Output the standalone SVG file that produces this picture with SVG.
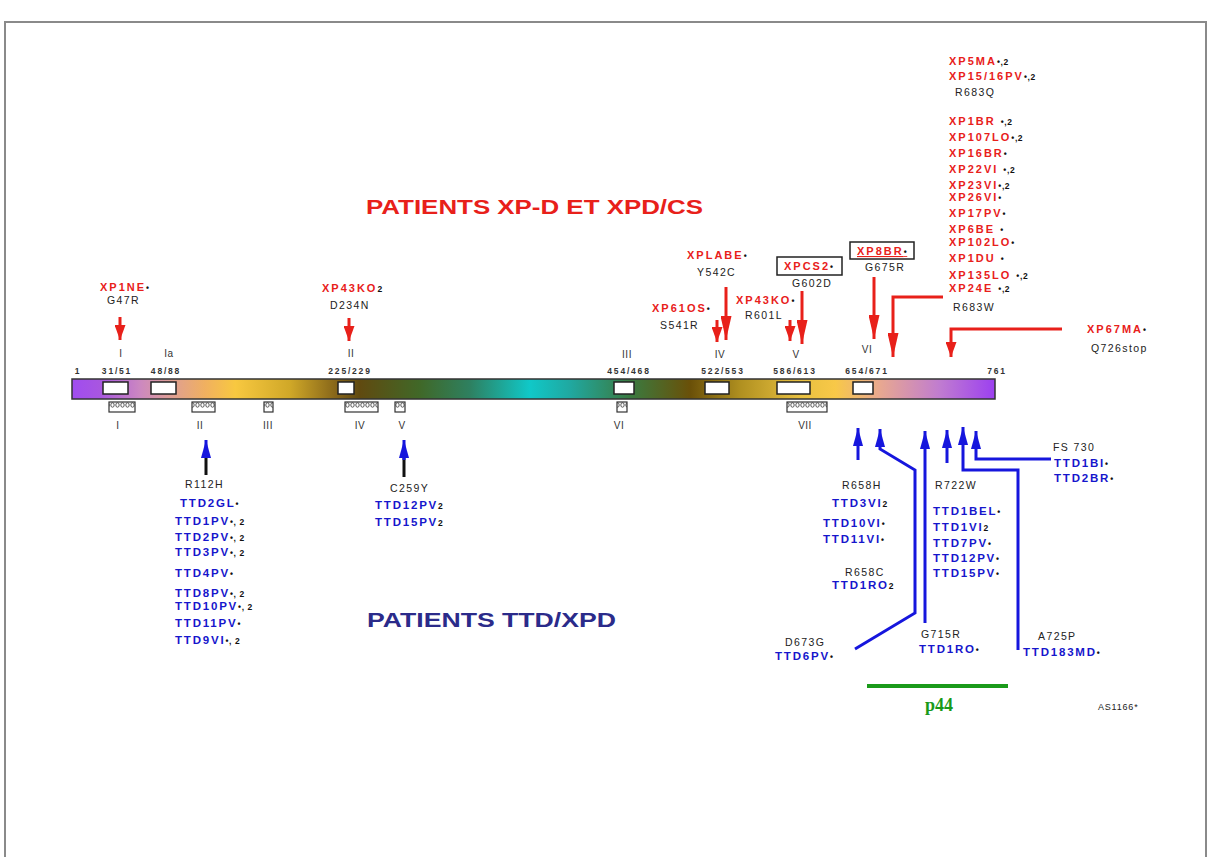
<svg xmlns="http://www.w3.org/2000/svg" width="1211" height="857" viewBox="0 0 1211 857">
<style>
.r{font-family:"Liberation Sans",Arial,sans-serif;font-weight:bold;font-size:11px;fill:#e8201a;letter-spacing:2px}
.b{font-family:"Liberation Sans",Arial,sans-serif;font-weight:bold;font-size:11.5px;fill:#1616cc;letter-spacing:1.8px}
.k{font-family:"Liberation Sans",Arial,sans-serif;font-size:10.5px;fill:#222;letter-spacing:1.4px}
.s{font-family:"Liberation Sans",Arial,sans-serif;font-weight:bold;font-size:8.5px;fill:#111;letter-spacing:0.6px}
.n{font-family:"Liberation Sans",Arial,sans-serif;font-weight:bold;font-size:8.5px;fill:#333;letter-spacing:1.8px;text-anchor:middle}
.rm{font-family:"Liberation Sans",Arial,sans-serif;font-size:10px;fill:#333;text-anchor:middle;letter-spacing:0.5px}
.ra{stroke:#e8201a;stroke-width:3;fill:none}
.ba{stroke:#1616dd;stroke-width:3;fill:none}
.kb{stroke:#111;stroke-width:3;fill:none}
.box{fill:#fff;stroke:#222;stroke-width:1.5}
.hb{fill:url(#hatch);stroke:#333;stroke-width:1.2}
</style>
<defs>
<linearGradient id="bar" x1="0" y1="0" x2="1" y2="0">
<stop offset="0" stop-color="#a04cf0"/>
<stop offset="0.03" stop-color="#a856e0"/>
<stop offset="0.074" stop-color="#cc88c0"/>
<stop offset="0.11" stop-color="#e0a090"/>
<stop offset="0.144" stop-color="#f0b060"/>
<stop offset="0.177" stop-color="#f8c840"/>
<stop offset="0.236" stop-color="#d0a828"/>
<stop offset="0.29" stop-color="#806018"/>
<stop offset="0.312" stop-color="#604a10"/>
<stop offset="0.377" stop-color="#406828"/>
<stop offset="0.431" stop-color="#2e8060"/>
<stop offset="0.496" stop-color="#10c8c8"/>
<stop offset="0.54" stop-color="#20a8a0"/>
<stop offset="0.605" stop-color="#3a7a40"/>
<stop offset="0.67" stop-color="#6a5008"/>
<stop offset="0.724" stop-color="#b09020"/>
<stop offset="0.789" stop-color="#e8c040"/>
<stop offset="0.827" stop-color="#f8c848"/>
<stop offset="0.875" stop-color="#e8a890"/>
<stop offset="0.94" stop-color="#c07cd0"/>
<stop offset="1" stop-color="#9c40f0"/>
</linearGradient>
<pattern id="hatch" x="0" y="0" width="5" height="10" patternUnits="userSpaceOnUse">
<rect width="5" height="10" fill="#fff"/>
<ellipse cx="2.5" cy="5" rx="1.7" ry="2.2" fill="none" stroke="#444" stroke-width="0.9"/>
</pattern>
<marker id="rh" viewBox="0 0 15 11" refX="15" refY="5.5" markerWidth="15" markerHeight="11" markerUnits="userSpaceOnUse" orient="auto">
<path d="M0,0 L15,5.5 L0,11 z" fill="#e8201a"/>
</marker>
<marker id="rhl" viewBox="0 0 24 11" refX="24" refY="5.5" markerWidth="24" markerHeight="11" markerUnits="userSpaceOnUse" orient="auto">
<path d="M0,0 L24,5.5 L0,11 z" fill="#e8201a"/>
</marker>
<marker id="bh" viewBox="0 0 18 10" refX="18" refY="5" markerWidth="18" markerHeight="10" markerUnits="userSpaceOnUse" orient="auto">
<path d="M0,0 L18,5 L0,10 z" fill="#1616dd"/>
</marker>
</defs>

<rect x="5" y="22" width="1201" height="850" fill="#fff" stroke="#8a8a8a" stroke-width="2"/>

<g id="titles">
<text x="366" y="214" textLength="337" lengthAdjust="spacingAndGlyphs" style="font-family:'Liberation Sans',Arial,sans-serif;font-weight:bold;font-size:21px;fill:#e8201a">PATIENTS XP-D ET XPD/CS</text>
<text x="367" y="627" textLength="249" lengthAdjust="spacingAndGlyphs" style="font-family:'Liberation Sans',Arial,sans-serif;font-weight:bold;font-size:21px;fill:#2b2b8a">PATIENTS TTD/XPD</text>
</g>

<g id="protein">
<rect x="72" y="379" width="923" height="20" fill="url(#bar)" stroke="#333" stroke-width="1.5"/>
<rect class="box" x="103" y="382" width="25" height="12"/>
<rect class="box" x="151" y="382" width="25" height="12"/>
<rect class="box" x="338" y="382" width="16" height="12"/>
<rect class="box" x="614" y="382" width="20" height="12"/>
<rect class="box" x="705" y="382" width="24" height="12"/>
<rect class="box" x="777" y="382" width="33" height="12"/>
<rect class="box" x="853" y="382" width="20" height="12"/>
<text class="n" x="78" y="374">1</text>
<text class="n" x="117" y="374">31/51</text>
<text class="n" x="166" y="374">48/88</text>
<text class="n" x="350" y="374">225/229</text>
<text class="n" x="629" y="374">454/468</text>
<text class="n" x="723" y="374">522/553</text>
<text class="n" x="795" y="374">586/613</text>
<text class="n" x="867" y="374">654/671</text>
<text class="n" x="997" y="374">761</text>
<text class="rm" x="121" y="357">I</text>
<text class="rm" x="169" y="357">Ia</text>
<text class="rm" x="351" y="357">II</text>
<text class="rm" x="627" y="358">III</text>
<text class="rm" x="720" y="358">IV</text>
<text class="rm" x="796" y="358">V</text>
<text class="rm" x="867" y="353">VI</text>
</g>

<g id="motifs">
<rect class="hb" x="109" y="402" width="26" height="10"/>
<rect class="hb" x="192" y="402" width="23" height="10"/>
<rect class="hb" x="264" y="402" width="9" height="10"/>
<rect class="hb" x="345" y="402" width="33" height="10"/>
<rect class="hb" x="395" y="402" width="10" height="10"/>
<rect class="hb" x="617" y="402" width="10" height="10"/>
<rect class="hb" x="787" y="402" width="40" height="10"/>
<text class="rm" x="118" y="429">I</text>
<text class="rm" x="200" y="429">II</text>
<text class="rm" x="268" y="429">III</text>
<text class="rm" x="360" y="429">IV</text>
<text class="rm" x="402" y="429">V</text>
<text class="rm" x="619" y="429">VI</text>
<text class="rm" x="805" y="429">VII</text>
</g>

<g id="connectors">
<line class="ra" x1="120" y1="317" x2="120" y2="340" marker-end="url(#rh)"/>
<line class="ra" x1="349" y1="318" x2="349" y2="341" marker-end="url(#rh)"/>
<line class="ra" x1="717" y1="320" x2="717" y2="342" marker-end="url(#rh)"/>
<line class="ra" x1="726" y1="287" x2="726" y2="340" marker-end="url(#rhl)"/>
<line class="ra" x1="790" y1="320" x2="790" y2="341" marker-end="url(#rh)"/>
<line class="ra" x1="802" y1="291" x2="802" y2="344" marker-end="url(#rhl)"/>
<line class="ra" x1="874" y1="277" x2="874" y2="339" marker-end="url(#rhl)"/>
<path class="ra" d="M943,297 L893,297 L893,357" marker-end="url(#rhl)"/>
<path class="ra" d="M1062,329 L951,329 L951,357" marker-end="url(#rh)"/>

<line class="kb" x1="206" y1="475" x2="206" y2="456"/>
<line class="ba" x1="206" y1="458" x2="206" y2="440" marker-end="url(#bh)"/>
<line class="kb" x1="404" y1="477" x2="404" y2="458"/>
<line class="ba" x1="404" y1="460" x2="404" y2="440" marker-end="url(#bh)"/>

<line class="ba" x1="858" y1="460" x2="858" y2="428" marker-end="url(#bh)"/>
<path class="ba" d="M855,649 L915,613 L915,470 L880,449 L880,429" marker-end="url(#bh)"/>
<line class="ba" x1="925" y1="623" x2="925" y2="431" marker-end="url(#bh)"/>
<line class="ba" x1="947" y1="463" x2="947" y2="430" marker-end="url(#bh)"/>
<path class="ba" d="M1018,650 L1018,470 L963,470 L963,427" marker-end="url(#bh)"/>
<path class="ba" d="M1051,459 L976,459 L976,431" marker-end="url(#bh)"/>

<line x1="867" y1="686" x2="1008" y2="686" stroke="#1a9a1a" stroke-width="4"/>
</g>

<g id="xp-left">
<text class="r" x="100" y="291">XP1NE<tspan class="s">•</tspan></text>
<text class="k" x="107" y="304">G47R</text>
<text class="r" x="322" y="292">XP43KO<tspan class="s">2</tspan></text>
<text class="k" x="330" y="309">D234N</text>
</g>

<g id="xp-mid">
<text class="r" x="687" y="259">XPLABE<tspan class="s">•</tspan></text>
<text class="k" x="697" y="276">Y542C</text>
<text class="r" x="652" y="312">XP61OS<tspan class="s">•</tspan></text>
<text class="k" x="660" y="329">S541R</text>
<text class="r" x="736" y="304">XP43KO<tspan class="s">•</tspan></text>
<text class="k" x="745" y="319">R601L</text>
<rect x="777" y="257" width="65" height="18" fill="none" stroke="#222" stroke-width="1.5"/>
<text class="r" x="784" y="270">XPCS2<tspan class="s">•</tspan></text>
<text class="k" x="792" y="287">G602D</text>
<rect x="850" y="242" width="64" height="17" fill="none" stroke="#222" stroke-width="1.5"/>
<text class="r" x="857" y="255" style="text-decoration:underline">XP8BR<tspan class="s">•</tspan></text>
<text class="k" x="865" y="271">G675R</text>
</g>

<g id="xp-right">
<text class="r" x="949" y="65">XP5MA<tspan class="s">•,2</tspan></text>
<text class="r" x="949" y="80">XP15/16PV<tspan class="s">•,2</tspan></text>
<text class="k" x="955" y="96">R683Q</text>
<text class="r" x="949" y="125">XP1BR <tspan class="s">•,2</tspan></text>
<text class="r" x="949" y="141">XP107LO<tspan class="s">•,2</tspan></text>
<text class="r" x="949" y="157">XP16BR<tspan class="s">•</tspan></text>
<text class="r" x="949" y="173">XP22VI <tspan class="s">•,2</tspan></text>
<text class="r" x="949" y="189">XP23VI<tspan class="s">•,2</tspan></text>
<text class="r" x="949" y="201">XP26VI<tspan class="s">•</tspan></text>
<text class="r" x="949" y="217">XP17PV<tspan class="s">•</tspan></text>
<text class="r" x="949" y="233">XP6BE <tspan class="s">•</tspan></text>
<text class="r" x="949" y="246">XP102LO<tspan class="s">•</tspan></text>
<text class="r" x="949" y="262">XP1DU <tspan class="s">•</tspan></text>
<text class="r" x="949" y="279">XP135LO <tspan class="s">•,2</tspan></text>
<text class="r" x="949" y="292">XP24E <tspan class="s">•,2</tspan></text>
<text class="k" x="953" y="311">R683W</text>
<text class="r" x="1087" y="333">XP67MA<tspan class="s">•</tspan></text>
<text class="k" x="1091" y="352">Q726stop</text>
</g>

<g id="ttd-r112h">
<text class="k" x="185" y="488">R112H</text>
<text class="b" x="180" y="507">TTD2GL<tspan class="s">•</tspan></text>
<text class="b" x="175" y="525">TTD1PV<tspan class="s">•, 2</tspan></text>
<text class="b" x="175" y="541">TTD2PV<tspan class="s">•, 2</tspan></text>
<text class="b" x="175" y="556">TTD3PV<tspan class="s">•, 2</tspan></text>
<text class="b" x="175" y="577">TTD4PV<tspan class="s">•</tspan></text>
<text class="b" x="175" y="597">TTD8PV<tspan class="s">•, 2</tspan></text>
<text class="b" x="175" y="610">TTD10PV<tspan class="s">•, 2</tspan></text>
<text class="b" x="175" y="627">TTD11PV<tspan class="s">•</tspan></text>
<text class="b" x="175" y="644">TTD9VI<tspan class="s">•, 2</tspan></text>
</g>

<g id="ttd-c259y">
<text class="k" x="390" y="492">C259Y</text>
<text class="b" x="375" y="509">TTD12PV<tspan class="s">2</tspan></text>
<text class="b" x="375" y="526">TTD15PV<tspan class="s">2</tspan></text>
</g>

<g id="ttd-right">
<text class="k" x="842" y="489">R658H</text>
<text class="b" x="832" y="507">TTD3VI<tspan class="s">2</tspan></text>
<text class="b" x="823" y="527">TTD10VI<tspan class="s">•</tspan></text>
<text class="b" x="823" y="543">TTD11VI<tspan class="s">•</tspan></text>
<text class="k" x="845" y="576">R658C</text>
<text class="b" x="832" y="589">TTD1RO<tspan class="s">2</tspan></text>
<text class="k" x="785" y="646">D673G</text>
<text class="b" x="775" y="660">TTD6PV<tspan class="s">•</tspan></text>
<text class="k" x="921" y="638">G715R</text>
<text class="b" x="919" y="653">TTD1RO<tspan class="s">•</tspan></text>
<text class="k" x="935" y="489">R722W</text>
<text class="b" x="933" y="515">TTD1BEL<tspan class="s">•</tspan></text>
<text class="b" x="933" y="531">TTD1VI<tspan class="s">2</tspan></text>
<text class="b" x="933" y="547">TTD7PV<tspan class="s">•</tspan></text>
<text class="b" x="933" y="562">TTD12PV<tspan class="s">•</tspan></text>
<text class="b" x="933" y="577">TTD15PV<tspan class="s">•</tspan></text>
<text class="k" x="1053" y="451">FS 730</text>
<text class="b" x="1054" y="467">TTD1BI<tspan class="s">•</tspan></text>
<text class="b" x="1054" y="482">TTD2BR<tspan class="s">•</tspan></text>
<text class="k" x="1038" y="640">A725P</text>
<text class="b" x="1023" y="656">TTD183MD<tspan class="s">•</tspan></text>
</g>

<g id="labels">
<text x="939" y="711" text-anchor="middle" style="font-family:'Liberation Serif','Times New Roman',serif;font-weight:bold;font-size:18px;fill:#1a9a1a">p44</text>
<text x="1098" y="710" style="font-family:'Liberation Sans',Arial,sans-serif;font-size:9px;fill:#222;letter-spacing:0.8px">AS1166*</text>
</g>
</svg>
